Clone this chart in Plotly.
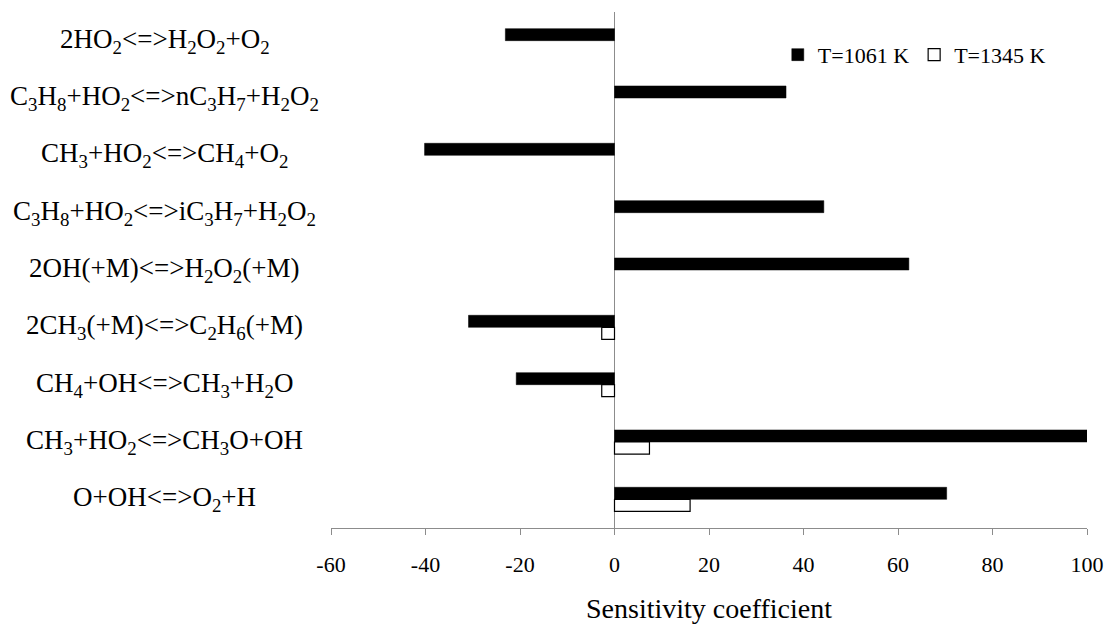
import plotly.graph_objects as go

# Reactions, listed top to bottom
reactions = [
    "2HO<sub>2</sub>&lt;=&gt;H<sub>2</sub>O<sub>2</sub>+O<sub>2</sub>",
    "C<sub>3</sub>H<sub>8</sub>+HO<sub>2</sub>&lt;=&gt;nC<sub>3</sub>H<sub>7</sub>+H<sub>2</sub>O<sub>2</sub>",
    "CH<sub>3</sub>+HO<sub>2</sub>&lt;=&gt;CH<sub>4</sub>+O<sub>2</sub>",
    "C<sub>3</sub>H<sub>8</sub>+HO<sub>2</sub>&lt;=&gt;iC<sub>3</sub>H<sub>7</sub>+H<sub>2</sub>O<sub>2</sub>",
    "2OH(+M)&lt;=&gt;H<sub>2</sub>O<sub>2</sub>(+M)",
    "2CH<sub>3</sub>(+M)&lt;=&gt;C<sub>2</sub>H<sub>6</sub>(+M)",
    "CH<sub>4</sub>+OH&lt;=&gt;CH<sub>3</sub>+H<sub>2</sub>O",
    "CH<sub>3</sub>+HO<sub>2</sub>&lt;=&gt;CH<sub>3</sub>O+OH",
    "O+OH&lt;=&gt;O<sub>2</sub>+H",
]

# Sensitivity coefficients at the two temperatures
sens_1061 = [-23.1, 36.3, -40.2, 44.3, 62.3, -30.9, -20.8, 100.0, 70.3]
sens_1345 = [None, None, None, None, None, -2.7, -2.7, 7.4, 16.0]

x_ticks = [-60, -40, -20, 0, 20, 40, 60, 80, 100]

serif = "Liberation Serif"
axis_grey = "#8c8c8c"

fig = go.Figure()
fig.add_trace(go.Bar(
    y=reactions, x=sens_1061, orientation="h", name="T=1061 K",
    marker=dict(color="black", line=dict(color="black", width=0.5)),
))
fig.add_trace(go.Bar(
    y=reactions, x=sens_1345, orientation="h", name="T=1345 K",
    marker=dict(color="white", line=dict(color="black", width=1.2)),
))

# Centred reaction labels to the left of the plotting area
for r in reactions:
    fig.add_annotation(
        x=-0.2196, xref="paper", y=r, yref="y", text=r, showarrow=False,
        xanchor="center", yanchor="middle",
        font=dict(family=serif, size=27, color="black"),
    )

fig.update_layout(
    width=1115, height=624,
    margin=dict(l=331, r=28, t=12, b=96),
    paper_bgcolor="white", plot_bgcolor="white",
    barmode="group", bargap=0.58, bargroupgap=0,
    font=dict(family=serif, color="black"),
    showlegend=True,
    legend=dict(
        orientation="h", x=0.591, y=0.917, xanchor="left", yanchor="middle",
        font=dict(family=serif, size=22, color="black"),
        bgcolor="rgba(0,0,0,0)",
    ),
    xaxis=dict(
        range=[-60, 100], tickvals=x_ticks, ticktext=[str(v) for v in x_ticks],
        automargin=False,
        showgrid=False, showline=True, linecolor=axis_grey, linewidth=1,
        ticks="outside", ticklen=6, tickcolor=axis_grey, tickwidth=1,
        tickfont=dict(family=serif, size=22, color="black"),
        ticklabelstandoff=11,
        zeroline=True, zerolinecolor=axis_grey, zerolinewidth=1,
        title=dict(text="Sensitivity coefficient",
                   font=dict(family=serif, size=28, color="black"), standoff=22),
    ),
    yaxis=dict(
        autorange="reversed", showticklabels=False, showgrid=False,
        showline=False, zeroline=False, ticks="", automargin=False,
    ),
)

fig.write_html("out.html")
